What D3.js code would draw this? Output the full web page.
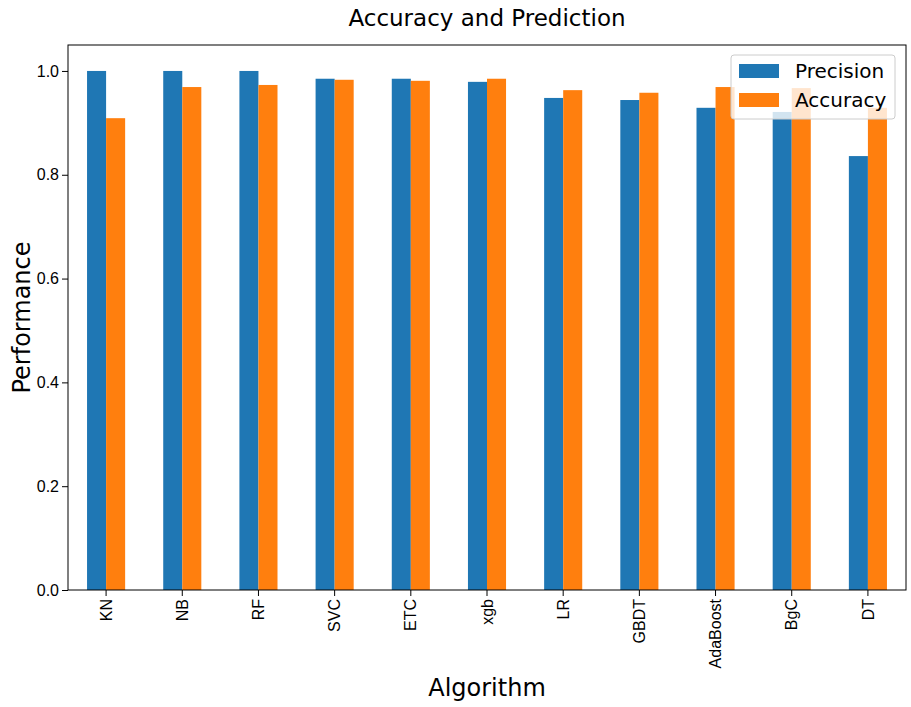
<!DOCTYPE html><html><head><script src="https://cdn.jsdelivr.net/npm/d3@7"></script>
<style>body{margin:0;background:#fff}</style></head><body><script>
const categories=["KN","NB","RF","SVC","ETC","xgb","LR","GBDT","AdaBoost","BgC","DT"];
const precision=[1.0,1.0,1.0,0.985,0.985,0.979,0.948,0.944,0.929,0.921,0.836];
const accuracy=[0.909,0.969,0.973,0.983,0.981,0.985,0.963,0.958,0.969,0.967,0.929];
const yTicks=[0,0.2,0.4,0.6,0.8,1.0];
const W=911,H=707,m={l:68,r:5,t:45,b:117};
const svg=d3.select("body").append("svg").attr("width",W).attr("height",H).style("font-family","DejaVu Sans");
const x=d3.scaleBand().domain(categories).range([m.l,W-m.r]);
const y=d3.scaleLinear().domain([0,1.05]).range([H-m.b,m.t]);
const bw=x.bandwidth()*0.25;
const colors=["#1f77b4","#ff7f0e"];
[precision,accuracy].forEach((s,i)=>{
svg.append("g").selectAll("rect").data(s).join("rect")
.attr("x",(d,j)=>x(categories[j])+x.bandwidth()/2-bw+i*bw).attr("width",bw)
.attr("y",d=>y(d)).attr("height",d=>y(0)-y(d)).attr("fill",colors[i]);});
const ya=svg.append("g").attr("transform",`translate(${m.l},0)`).call(d3.axisLeft(y).tickValues(yTicks).tickFormat(d3.format(".1f")).tickSizeOuter(0));
ya.selectAll("text").style("font-size","16px");
const xa=svg.append("g").attr("transform",`translate(0,${H-m.b})`).call(d3.axisBottom(x).tickSizeOuter(0));
xa.selectAll("text").style("font-size","16px").attr("transform","rotate(-90)").attr("text-anchor","end").attr("x",-9).attr("y",0).attr("dy","0.35em");
svg.selectAll(".domain").remove();
svg.append("rect").attr("x",m.l).attr("y",m.t).attr("width",W-m.r-m.l).attr("height",H-m.b-m.t).attr("fill","none").attr("stroke","#000");
svg.append("text").attr("x",(m.l+W-m.r)/2).attr("y",26).attr("text-anchor","middle").style("font-size","23px").text("Accuracy and Prediction");
svg.append("text").attr("x",(m.l+W-m.r)/2).attr("y",696).attr("text-anchor","middle").style("font-size","24px").text("Algorithm");
svg.append("text").attr("transform",`translate(30,${(m.t+H-m.b)/2}) rotate(-90)`).attr("text-anchor","middle").style("font-size","24px").text("Performance");
const lg=svg.append("g").attr("transform","translate(731,55)");
lg.append("rect").attr("width",164).attr("height",64).attr("rx",3).attr("fill","#fff").attr("fill-opacity",0.8).attr("stroke","#ccc");
["Precision","Accuracy"].forEach((t,i)=>{
lg.append("rect").attr("x",8).attr("y",9+i*29).attr("width",40).attr("height",14).attr("fill",colors[i]);
lg.append("text").attr("x",64).attr("y",23+i*29).style("font-size","20px").text(t);});
</script></body></html>
